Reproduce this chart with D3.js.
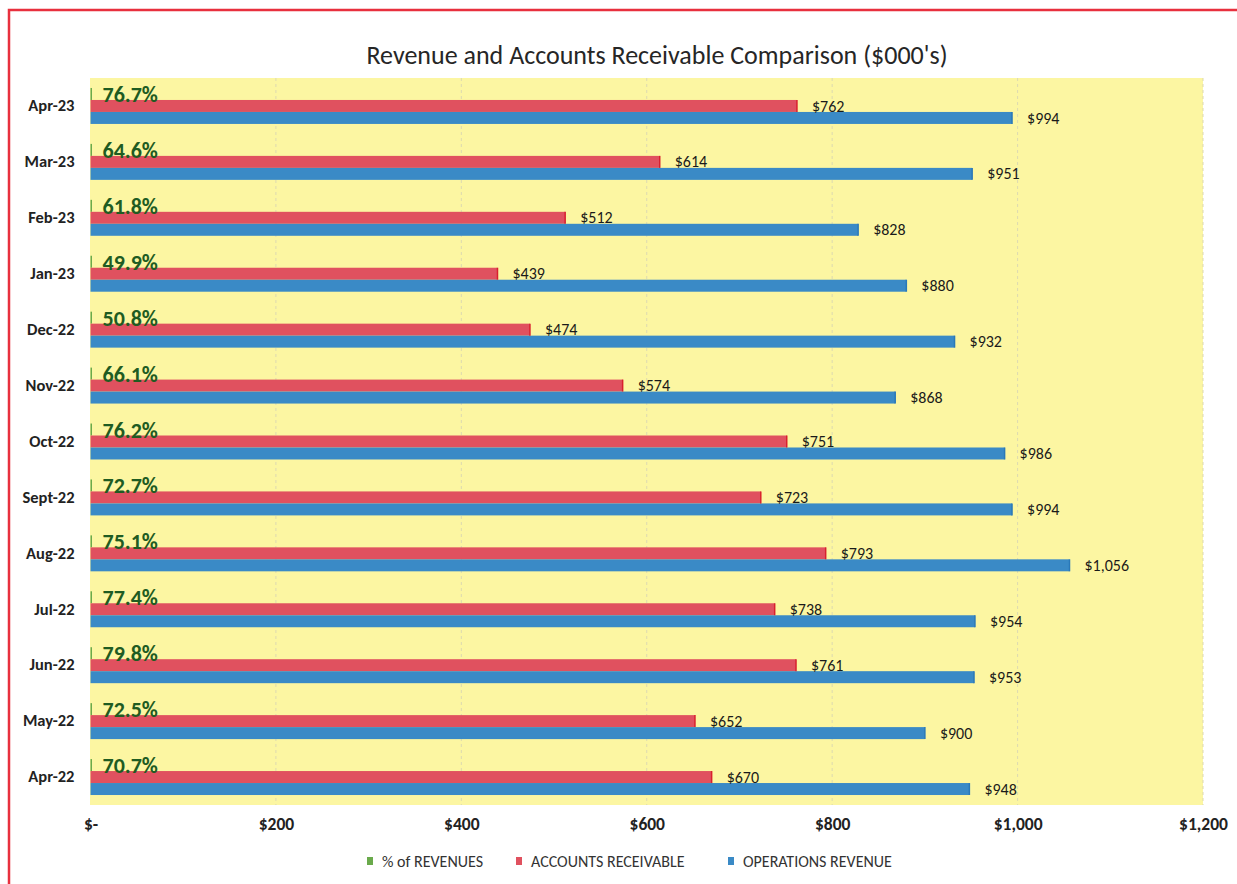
<!DOCTYPE html>
<html>
<head>
<meta charset="utf-8">
<script src="https://cdn.jsdelivr.net/npm/d3@7"></script>
<style>
  body { margin: 0; background: #fff; }
  svg { display: block; font-family: Carlito, Lato, "Open Sans", sans-serif; }
</style>
</head>
<body>
<div id="content"></div>
<script>
// chart data, top row first
var months = ["Apr-23", "Mar-23", "Feb-23", "Jan-23", "Dec-22", "Nov-22", "Oct-22",
              "Sept-22", "Aug-22", "Jul-22", "Jun-22", "May-22", "Apr-22"];
var pctRevenues = [76.7, 64.6, 61.8, 49.9, 50.8, 66.1, 76.2, 72.7, 75.1, 77.4, 79.8, 72.5, 70.7];
var receivables = [762, 614, 512, 439, 474, 574, 751, 723, 793, 738, 761, 652, 670];
var opsRevenue = [994, 951, 828, 880, 932, 868, 986, 994, 1056, 954, 953, 900, 948];
var xTicks = [0, 200, 400, 600, 800, 1000, 1200];
var seriesNames = ["% of REVENUES", "ACCOUNTS RECEIVABLE", "OPERATIONS REVENUE"];
var seriesColors = ["#6aaa4c", "#e0515f", "#3a8ac6"];

var W = 1237, H = 884;
var plotLeft = 90.5, plotRight = 1203, plotTop = 78, plotBottom = 805;

var svg = d3.select("#content").append("svg").attr("width", W).attr("height", H);

// outer red frame
svg.append("rect").attr("x", 9).attr("y", 10).attr("width", 1240).attr("height", 900)
  .attr("fill", "none").attr("stroke", "#e8303e").attr("stroke-width", 2.5);

svg.append("text").attr("x", 657).attr("y", 64).attr("text-anchor", "middle")
  .attr("font-size", 26).attr("fill", "#262626")
  .text("Revenue and Accounts Receivable Comparison ($000's)");

var x = d3.scaleLinear().domain([0, 1200]).range([plotLeft, plotRight]);
var y = d3.scaleBand().domain(months).range([plotTop, plotBottom]).paddingInner(0.357).paddingOuter(0.1785);
var ySub = d3.scaleBand().domain([0, 1, 2]).range([0, y.bandwidth()]);

// plot background
svg.append("rect").attr("x", plotLeft - 0.5).attr("y", plotTop).attr("width", plotRight - plotLeft + 0.5)
  .attr("height", plotBottom - plotTop).attr("fill", "#fcf6a2");

// gridlines
svg.append("g").selectAll("line").data(xTicks.slice(1))
  .join("line")
  .attr("x1", d => x(d)).attr("x2", d => x(d)).attr("y1", plotTop).attr("y2", plotBottom)
  .attr("stroke", "#ddd9b0").attr("stroke-dasharray", "3,3").attr("stroke-width", 1);

// x axis labels
var fmt = d => d === 0 ? "$-" : "$" + d3.format(",")(d);
var xAxis = d3.axisBottom(x).tickValues(xTicks).tickFormat(fmt).tickSize(0).tickPadding(0);
var gx = svg.append("g").attr("transform", "translate(0," + (plotBottom + 13) + ")").call(xAxis);
gx.select(".domain").remove();
gx.selectAll("text").attr("font-size", 17.5).attr("font-weight", "bold").attr("fill", "#222")
  .attr("font-family", "Carlito, Lato, sans-serif");

// category labels
var yAxis = d3.axisLeft(y).tickSize(0).tickPadding(16);
var gy = svg.append("g").attr("transform", "translate(" + plotLeft + ",0)").call(yAxis);
gy.select(".domain").remove();
gy.selectAll("text").attr("font-size", 16.5).attr("font-weight", "bold").attr("fill", "#222")
  .attr("font-family", "Carlito, Lato, sans-serif");

var rows = months.map(function(m, i) {
  return { month: m, vals: [pctRevenues[i] / 100, receivables[i], opsRevenue[i]], pct: pctRevenues[i] };
});

var g = svg.append("g").selectAll("g").data(rows).join("g")
  .attr("transform", d => "translate(0," + y(d.month) + ")");

g.selectAll("rect").data(d => d.vals.map((v, k) => ({ v: v, k: k })))
  .join("rect")
  .attr("x", x(0))
  .attr("y", d => ySub(d.k))
  .attr("width", d => Math.max(1.5, x(d.v) - x(0)))
  .attr("height", ySub.bandwidth())
  .attr("fill", d => seriesColors[d.k]);

// darker end caps like the original
g.selectAll("line.cap").data(d => d.vals.slice(1).map((v, k) => ({ v: v, k: k + 1 })))
  .join("line").attr("class", "cap")
  .attr("x1", d => x(d.v)).attr("x2", d => x(d.v))
  .attr("y1", d => ySub(d.k)).attr("y2", d => ySub(d.k) + ySub.bandwidth())
  .attr("stroke", d => d.k === 1 ? "#d8202e" : "#2a78b8").attr("stroke-width", 1.5);

// value labels
g.selectAll("text.val").data(d => d.vals.slice(1).map((v, k) => ({ v: v, k: k + 1 })))
  .join("text").attr("class", "val")
  .attr("x", d => x(d.v) + 15)
  .attr("y", d => ySub(d.k) + ySub.bandwidth() / 2)
  .attr("dy", "0.35em")
  .attr("font-size", 16).attr("fill", "#1a1a1a")
  .text(d => "$" + d3.format(",")(d.v));

g.append("text")
  .attr("x", x(0) + 12)
  .attr("y", ySub(1) + 2)
  .attr("font-size", 22).attr("font-weight", "bold").attr("fill", "#1f5c22")
  .text(d => d.pct.toFixed(1) + "%");

// legend
var legendX = [370, 519, 731];
var lg = svg.append("g").selectAll("g").data(seriesNames).join("g")
  .attr("transform", (d, i) => "translate(" + legendX[i] + ",861)");
lg.append("rect").attr("x", -3).attr("y", -4).attr("width", 6).attr("height", 8)
  .attr("fill", (d, i) => seriesColors[i]);
lg.append("text").attr("x", 12).attr("dy", "0.35em").attr("font-size", 16).attr("fill", "#333")
  .text(d => d);
</script>
</body>
</html>
